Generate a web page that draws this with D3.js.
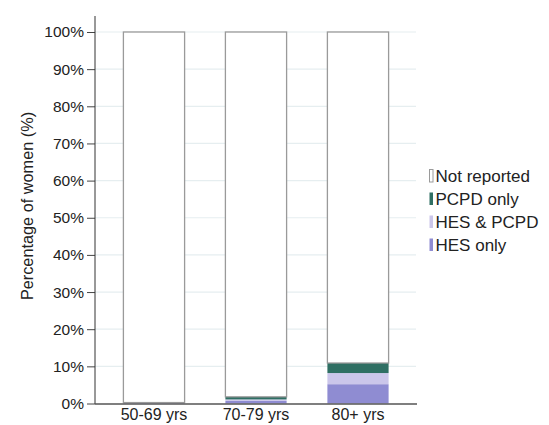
<!DOCTYPE html>
<html>
<head>
<meta charset="utf-8">
<script src="https://cdn.jsdelivr.net/npm/d3@7"></script>
<style>
  html, body { margin: 0; padding: 0; background: #fff; }
  svg { display: block; font-family: Arial, "Liberation Sans", sans-serif; }
</style>
</head>
<body>
<svg id="chart" width="549" height="425"></svg>
<script>
// Age groups and stacked shares (% of women) per reporting source
const categories = ["50-69 yrs", "70-79 yrs", "80+ yrs"];
const hesOnly     = [0.1, 0.7, 5.2];
const hesAndPcpd  = [0.05, 0.4, 3.0];
const pcpdOnly    = [0.1, 0.7, 2.7];
const notReported = [99.75, 98.2, 89.1];

const seriesNames  = ["HES only", "HES & PCPD", "PCPD only", "Not reported"];
const seriesColors = ["#8f8cd2", "#cbc6ea", "#2f6f63", "#ffffff"];
const yTicks = [0, 10, 20, 30, 40, 50, 60, 70, 80, 90, 100];

const rows = categories.map((c, i) => ({
  cat: c,
  "HES only": hesOnly[i],
  "HES & PCPD": hesAndPcpd[i],
  "PCPD only": pcpdOnly[i],
  "Not reported": notReported[i]
}));

const svg = d3.select("#chart");

const x = d3.scaleBand().domain(categories).range([103, 409])
  .paddingInner(0.4).paddingOuter(0.2);
const y = d3.scaleLinear().domain([0, 100]).range([403.5, 32]);

// light horizontal gridlines
svg.append("g").selectAll("line").data(yTicks.slice(1)).join("line")
  .attr("x1", 95).attr("x2", 416)
  .attr("y1", d => y(d)).attr("y2", d => y(d))
  .attr("stroke", "#e6eef0").attr("stroke-width", 1.2);

const stack = d3.stack().keys(seriesNames)(rows);

const layers = svg.append("g").selectAll("g").data(stack).join("g")
  .attr("fill", (d, i) => seriesColors[i]);

layers.selectAll("rect").data(d => d).join("rect")
  .attr("x", d => x(d.data.cat))
  .attr("width", x.bandwidth())
  .attr("y", d => y(d[1]))
  .attr("height", d => y(d[0]) - y(d[1]));

// outline of the "Not reported" segment
svg.append("g").selectAll("rect").data(stack[3]).join("rect")
  .attr("x", d => x(d.data.cat))
  .attr("width", x.bandwidth())
  .attr("y", d => y(d[1]))
  .attr("height", d => y(d[0]) - y(d[1]))
  .attr("fill", "none").attr("stroke", "#9a9a9a").attr("stroke-width", 1.3);

// y axis
const yAxis = d3.axisLeft(y).tickValues(yTicks).tickFormat(d => d + "%")
  .tickSize(8).tickPadding(3);
const gy = svg.append("g").attr("transform", "translate(95,0)").call(yAxis);
gy.select(".domain").remove();
gy.append("line").attr("x1", 0).attr("x2", 0).attr("y1", 16).attr("y2", 404)
  .attr("stroke", "#333").attr("stroke-width", 1);
gy.selectAll(".tick line").attr("stroke", "#444");
gy.selectAll(".tick text").attr("fill", "#222").style("font-size", "15.5px");

// x axis
const xAxis = d3.axisBottom(x).tickSize(0).tickPadding(5);
const gx = svg.append("g").attr("transform", "translate(0,404)").call(xAxis);
gx.select(".domain").remove();
gx.append("line").attr("x1", 95).attr("x2", 417).attr("y1", 0).attr("y2", 0)
  .attr("stroke", "#555").attr("stroke-width", 1.3);
gx.selectAll(".tick text").attr("fill", "#222").style("font-size", "16px");

// y axis title
svg.append("text")
  .attr("transform", "translate(33,206) rotate(-90)")
  .attr("text-anchor", "middle")
  .attr("fill", "#222").style("font-size", "16.3px")
  .text("Percentage of women (%)");

// legend (top entry first)
const legendOrder = [3, 2, 1, 0];
const lg = svg.append("g").attr("transform", "translate(429,169)");
legendOrder.forEach((si, k) => {
  const row = lg.append("g").attr("transform", `translate(0,${k * 23})`);
  row.append("rect").attr("x", 0.5).attr("y", 0.5).attr("width", 3.5).attr("height", 12.5)
    .attr("fill", seriesColors[si])
    .attr("stroke", si === 3 ? "#9a9a9a" : "none").attr("stroke-width", 1);
  row.append("text").attr("x", 6.5).attr("y", 12.5)
    .attr("fill", "#222").style("font-size", "17px")
    .text(seriesNames[si]);
});
</script>
</body>
</html>
